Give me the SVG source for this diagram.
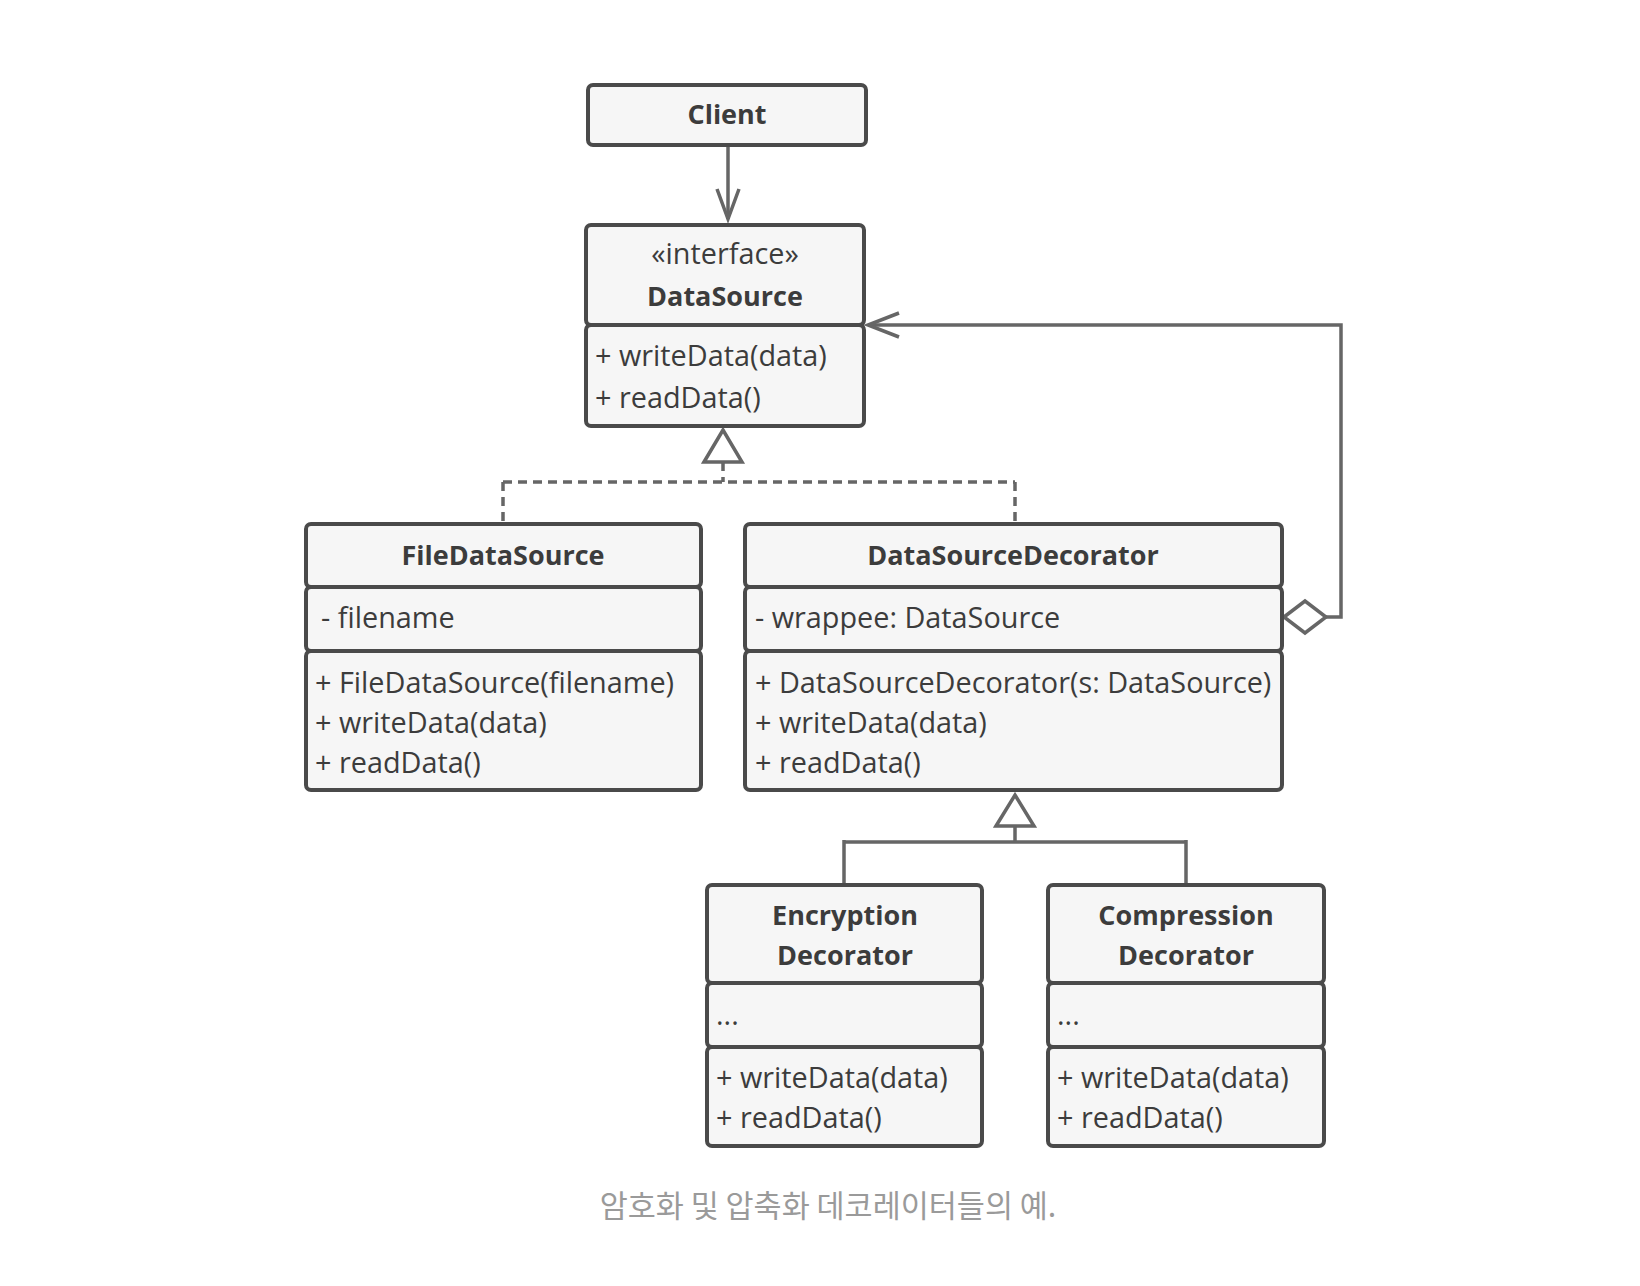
<svg xmlns="http://www.w3.org/2000/svg" width="1640" height="1286" viewBox="0 0 1640 1286">
<defs>
<style>
.box{fill:#f6f6f6;stroke:#4a4a4a;stroke-width:4}
.t{font-family:"Open Sans","Noto Sans",sans-serif;font-size:28.8px;fill:#3c3c3c}
.b{font-weight:700;text-anchor:middle;font-size:27px}
.c{text-anchor:middle}
.ln{fill:none;stroke:#666;stroke-width:3.5}
.dash{stroke-dasharray:9 6}
.cap{font-family:"Noto Sans CJK KR","Noto Sans",sans-serif;font-size:30.5px;fill:#9a9a9a;text-anchor:middle}
</style>
</defs>
<rect width="1640" height="1286" fill="#ffffff"/>
<g id="connectors">
<path class="ln" d="M728 147 V219"/>
<path class="ln" d="M717 189 L728 219 L739 189"/>
<path class="ln" d="M704 462 L723 430 L742 462 Z"/>
<path class="ln dash" d="M723 462 V482 M503 482 H1015 M503 482 V522 M1015 482 V522"/>
<path class="ln" d="M1284 617 L1305 601 L1326 617 L1305 633 Z"/>
<path class="ln" d="M1326 617 H1341 V325 H868"/>
<path class="ln" d="M899 313 L868 325 L899 337"/>
<path class="ln" d="M996 826 L1015 795 L1034 826 Z"/>
<path class="ln" d="M1015 826 V842 M844 842 H1186 M844 840 V883 M1186 840 V883"/>
</g>
<g id="client">
<rect class="box" x="588" y="85" width="278" height="60" rx="5"/>
<text class="t b" x="727" y="124">Client</text>
</g>
<g id="datasource">
<rect class="box" x="586" y="225" width="278" height="100" rx="5"/>
<rect class="box" x="586" y="325" width="278" height="101" rx="5"/>
<text class="t c" x="725" y="264">«interface»</text>
<text class="t b" x="725" y="306">DataSource</text>
<text class="t" x="595" y="366">+ writeData(data)</text>
<text class="t" x="595" y="408">+ readData()</text>
</g>
<g id="filedatasource">
<rect class="box" x="306" y="524" width="395" height="63" rx="5"/>
<rect class="box" x="306" y="587" width="395" height="64" rx="5"/>
<rect class="box" x="306" y="651" width="395" height="139" rx="5"/>
<text class="t b" x="503" y="565">FileDataSource</text>
<text class="t" x="321" y="628">- filename</text>
<text class="t" x="315" y="693">+ FileDataSource(filename)</text>
<text class="t" x="315" y="733">+ writeData(data)</text>
<text class="t" x="315" y="773">+ readData()</text>
</g>
<g id="datasourcedecorator">
<rect class="box" x="745" y="524" width="537" height="63" rx="5"/>
<rect class="box" x="745" y="587" width="537" height="64" rx="5"/>
<rect class="box" x="745" y="651" width="537" height="139" rx="5"/>
<text class="t b" x="1013" y="565">DataSourceDecorator</text>
<text class="t" x="755" y="628">- wrappee: DataSource</text>
<text class="t" x="755" y="693">+ DataSourceDecorator(s: DataSource)</text>
<text class="t" x="755" y="733">+ writeData(data)</text>
<text class="t" x="755" y="773">+ readData()</text>
</g>
<g id="encryption">
<rect class="box" x="707" y="885" width="275" height="98" rx="5"/>
<rect class="box" x="707" y="983" width="275" height="64" rx="5"/>
<rect class="box" x="707" y="1047" width="275" height="99" rx="5"/>
<text class="t b" x="845" y="925">Encryption</text>
<text class="t b" x="845" y="965">Decorator</text>
<text class="t" x="716" y="1025">...</text>
<text class="t" x="716" y="1088">+ writeData(data)</text>
<text class="t" x="716" y="1128">+ readData()</text>
</g>
<g id="compression">
<rect class="box" x="1048" y="885" width="276" height="98" rx="5"/>
<rect class="box" x="1048" y="983" width="276" height="64" rx="5"/>
<rect class="box" x="1048" y="1047" width="276" height="99" rx="5"/>
<text class="t b" x="1186" y="925">Compression</text>
<text class="t b" x="1186" y="965">Decorator</text>
<text class="t" x="1057" y="1025">...</text>
<text class="t" x="1057" y="1088">+ writeData(data)</text>
<text class="t" x="1057" y="1128">+ readData()</text>
</g>
<text class="cap" x="828" y="1217">암호화 및 압축화 데코레이터들의 예.</text>
</svg>
